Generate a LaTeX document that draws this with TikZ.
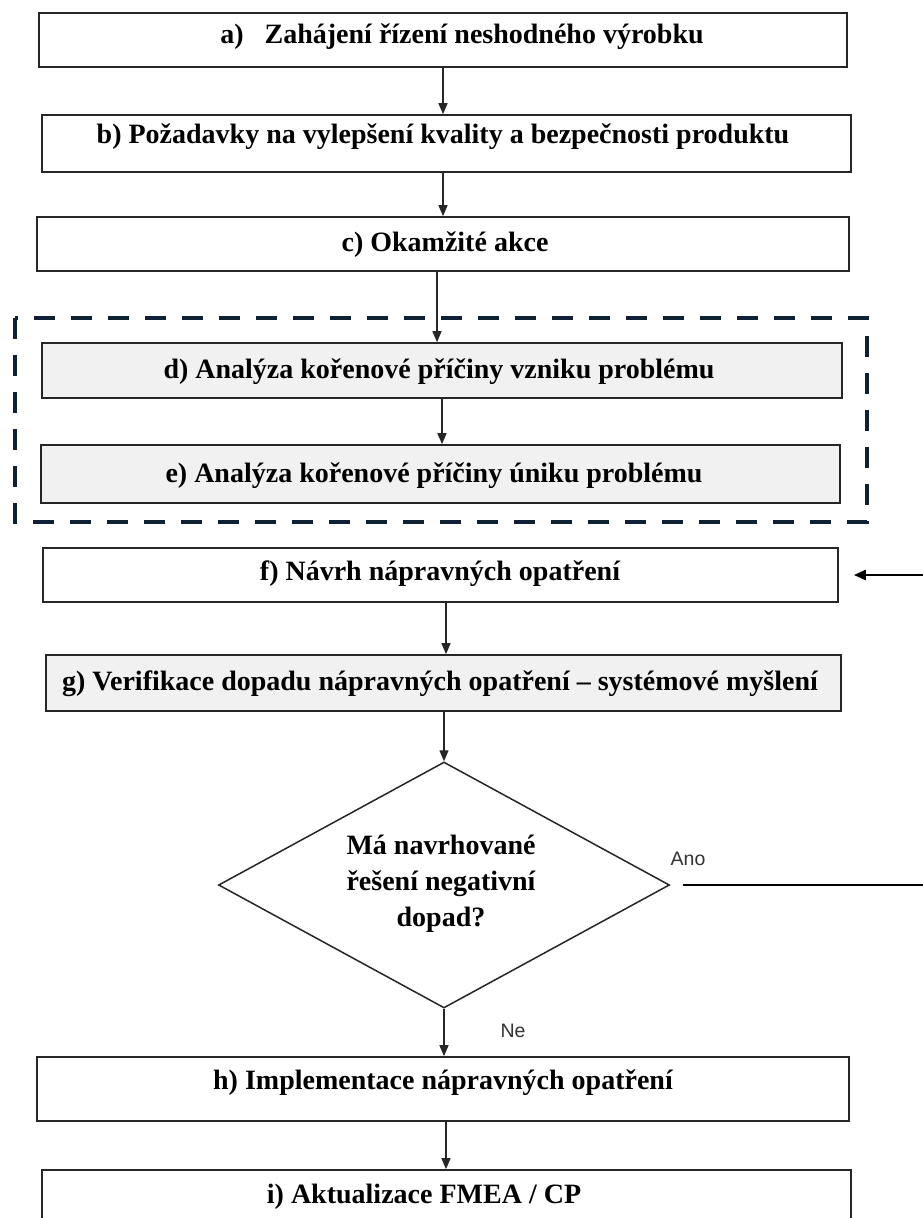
\documentclass[tikz,border=0pt]{standalone}
\usepackage{fontspec}
\setmainfont{Liberation Serif}
\newfontfamily\labelfont{Liberation Sans}
\usetikzlibrary{shapes.geometric,arrows.meta,calc}

\definecolor{edge}{HTML}{262626}
\definecolor{panel}{HTML}{F1F1F1}
\definecolor{navy}{HTML}{0F2233}

\tikzset{
  stepbox/.style={draw=edge, line width=1.7pt, rectangle, inner sep=0pt, fill=white},
  greybox/.style={stepbox, fill=panel},
  steptext/.style={anchor=base, inner sep=0pt, font=\fontsize{28}{36}\selectfont\bfseries},
  decision/.style={draw=edge, line width=1.5pt, diamond, inner sep=0pt, fill=white},
  flow/.style={draw=edge, line width=1.4pt, -{Triangle[length=11pt,width=9pt]}},
  backflow/.style={draw=black, line width=2.6pt},
  branch/.style={inner sep=0pt, text=black!80, font=\labelfont\fontsize{19.5}{22}\selectfont},
  groupframe/.style={draw=navy, line width=4.5pt, dash pattern=on 21pt off 16pt}
}

\begin{document}
\begin{tikzpicture}[x=1pt,y=-1pt]
\clip (0,0) rectangle (923,1218);
\fill[white] (0,0) rectangle (923,1218);

% group frame around the two root-cause analyses
\draw[groupframe] (15,318) rectangle (867,522);

% process steps
\node[stepbox, minimum width=808pt, minimum height=54pt] (a) at (443,40) {};
\node[stepbox, minimum width=809pt, minimum height=57pt] (b) at (446.5,143.5) {};
\node[stepbox, minimum width=812pt, minimum height=54pt] (c) at (443,244) {};
\node[greybox, minimum width=800pt, minimum height=55pt] (d) at (442,370.5) {};
\node[greybox, minimum width=799pt, minimum height=58pt] (e) at (440.5,474) {};
\node[stepbox, minimum width=795pt, minimum height=54pt] (f) at (440.5,575) {};
\node[greybox, minimum width=795pt, minimum height=56pt] (g) at (443.5,683) {};
\node[decision, minimum width=451pt, minimum height=246pt] (q) at (444,885) {};
\node[stepbox, minimum width=812pt, minimum height=64pt] (h) at (443,1089) {};
\node[stepbox, minimum width=809pt, minimum height=80pt] (i) at (446.5,1210) {};

% step texts
\node[steptext] (ta) at (462,43) {a)\hspace{0.5em} Zahájení řízení neshodného výrobku};
\node[steptext] (tb) at (443,143) {b) Požadavky na vylepšení kvality a bezpečnosti produktu};
\node[steptext] (tc) at (445,251) {c) Okamžité akce};
\node[steptext] (td) at (439,378) {d) Analýza kořenové příčiny vzniku problému};
\node[steptext] (te) at (434,482) {e) Analýza kořenové příčiny úniku problému};
\node[steptext] (tf) at (440,580) {f) Návrh nápravných opatření};
\node[steptext] (tg) at (440,690) {g) Verifikace dopadu nápravných opatření – systémové myšlení};
\node[steptext] (th) at (443,1089) {h) Implementace nápravných opatření};
\node[steptext] (ti) at (424,1203) {i) Aktualizace FMEA / CP};
\node[inner sep=0pt, align=center, font=\fontsize{28}{36}\selectfont\bfseries] (tq) at (441,884)
  {Má navrhované\\řešení negativní\\dopad?};

% branch labels
\node[branch] (ano) at (688,859) {Ano};
\node[branch] (ne) at (513,1031) {Ne};

% main flow
\draw[flow] (a.south) -- (a.south |- b.north);
\draw[flow] (tb |- b.south) -- (tb |- c.north);
\draw[flow] ([xshift=-6pt]c.south) -- ([xshift=-6pt]c.south |- d.north);
\draw[flow] (d.south) -- (d.south |- e.north);
\draw[flow] ([xshift=5.5pt]f.south) -- ([xshift=5.5pt]f.south |- g.north);
\draw[flow] (q.north |- g.south) -- (q.north);
\draw[flow] (q.south) -- (q.south |- h.north);
\draw[flow] ([xshift=3pt]h.south) -- ([xshift=3pt]h.south |- i.north);

% return path from "Ano" back to step f
\coordinate (anoOut) at ([xshift=13pt]q.east);
\coordinate (fIn) at ([xshift=15pt]f.east);
\coordinate (turn) at (940,0);
\draw[backflow] (anoOut) -- (anoOut -| turn) -- (fIn -| turn) -- ([xshift=8pt]fIn);
\draw[draw=black, line width=2.6pt, -{Triangle[length=12pt,width=10pt]}] ([xshift=10pt]fIn) -- (fIn);
\end{tikzpicture}
\end{document}
